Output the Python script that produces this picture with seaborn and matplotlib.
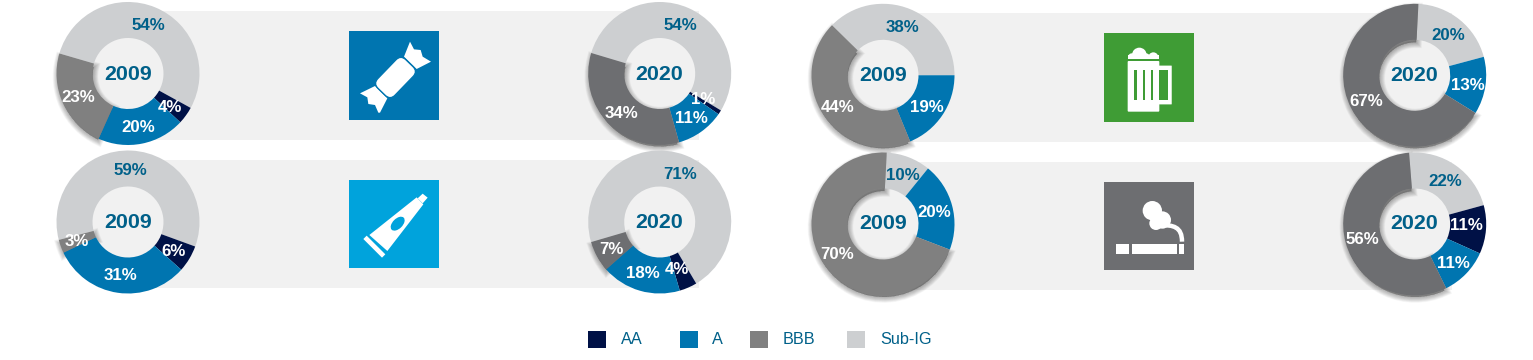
import matplotlib
matplotlib.use("Agg")
import matplotlib.pyplot as plt
import seaborn as sns
from matplotlib.patches import Circle, Ellipse, FancyBboxPatch, PathPatch, Polygon, Rectangle, Wedge
from matplotlib.path import Path
from matplotlib.transforms import Affine2D

# --- Data (order: Sub-IG, AA, A, BBB, clockwise) ---
ratings = ["Sub-IG", "AA", "A", "BBB"]
legend_order = ["AA", "A", "BBB", "Sub-IG"]
years = ["2009", "2020"]
candy_2009 = [54, 4, 20, 23]
candy_2020 = [54, 1, 11, 34]
paste_2009 = [59, 6, 31, 3]
paste_2020 = [71, 4, 18, 7]
beer_2009 = [38, 0, 19, 44]
beer_2020 = [20, 0, 13, 67]
smoke_2009 = [10, 0, 20, 70]
smoke_2020 = [22, 11, 11, 56]

# --- Colours ---
sns.set_theme(style="white")
plt.rcParams["font.family"] = ["Liberation Sans", "DejaVu Sans"]
DARK, BLUE, GREY_09, GREY_20, LIGHT = sns.color_palette(
    ["#001146", "#0075b0", "#808080", "#6d6e71", "#cdcfd1"])
BAND = "#f1f1f1"
TEXT = "#006089"
GREEN = "#3f9c35"

# --- Layout, in image pixels ---
R_OUT, R_IN = 71.5, 35.5
# values, year index, centre x, centre y, start angle, label positions (same order as the values), year position
donuts = [
    (candy_2009, 0, 128, 73.5, 163.7, [(148.7, 25), (170, 106.7), (138.3, 126.7), (78.3, 96)], (127.7, 72.7)),
    (candy_2020, 1, 659.7, 73.5, 163.3, [(680.7, 25), (703.3, 98.3), (691.7, 117.3), (621.7, 112.7)], (659, 72.7)),
    (paste_2009, 0, 128, 222, 194.5, [(130.7, 169.3), (173.3, 250.3), (120, 275), (76.7, 240.7)], (127.7, 221)),
    (paste_2020, 1, 659.7, 222, 196.3, [(679.7, 173.3), (677.3, 269), (642.7, 273), (611.7, 248.3)], (658.7, 221)),
    (beer_2009, 0, 883, 75.3, 135.5, [(902.7, 26), None, (926.7, 106.7), (837.7, 106.7)], (883, 74)),
    (beer_2020, 1, 1414.7, 75.3, 87, [(1448.7, 34.3), None, (1468.3, 84.3), (1366.7, 100)], (1413.7, 74)),
    (smoke_2009, 0, 883, 224, 87, [(902.7, 174.3), None, (934.7, 211.7), (836.7, 253.3)], (883, 221.7)),
    (smoke_2020, 1, 1414.7, 224, 94.5, [(1445.7, 180), (1466, 225), (1453.3, 262.3), (1362.7, 238.3)], (1413.7, 221.7)),
]
bands = [(98, 11, 699, 140), (98, 159.7, 699, 288), (853, 13, 1452, 142), (853, 162, 1452, 289.7)]
legend_boxes = [588, 680, 750, 847]
legend_text = [621, 712, 783, 880]

fig = plt.figure(figsize=(15.33, 3.6), dpi=100)
ax = fig.add_axes([0, 0, 1, 1])
ax.set_xlim(0, 1533)
ax.set_ylim(360, 0)
ax.axis("off")

for x0, y0, x1, y1 in bands:
    ax.add_patch(Rectangle((x0, y0), x1 - x0, y1 - y0, color=BAND, lw=0, zorder=1))

# --- Donuts ---
for values, year_idx, cx, cy, start, label_pos, year_pos in donuts:
    grey = GREY_09 if year_idx == 0 else GREY_20
    ax.add_patch(Circle((cx, cy), R_IN + 1, color=BAND, lw=0, zorder=2))
    wedges, _ = ax.pie(values, colors=[LIGHT, DARK, BLUE, grey], center=(cx, cy), radius=R_OUT,
                       startangle=-start, frame=True,
                       wedgeprops={"width": R_OUT - R_IN, "lw": 0, "zorder": 5})
    # soft shadow under the BBB slice
    w = wedges[3]
    for lw in [0.6, 1.2, 1.8, 2.4, 3, 3.6, 4.2, 4.8, 5.4, 6, 6.6, 7.2, 7.8, 8.4]:
        ax.add_patch(Wedge((cx + 0.5, cy + 3), R_OUT - 1.5, w.theta1 + 1.5, w.theta2 - 1.5, width=R_OUT - R_IN - 2,
                           facecolor="black", edgecolor="black", alpha=0.022, lw=lw, zorder=3))
    for name, val, pos in zip(ratings, values, label_pos):
        if pos is None:
            continue
        ax.text(pos[0], pos[1] + 1, f"{val}%", color=TEXT if name == "Sub-IG" else "white", fontsize=12.2,
                fontweight="bold", ha="center", va="center", zorder=7)
    ax.text(year_pos[0], year_pos[1] + 1.5, years[year_idx], color=TEXT, fontsize=15.4, fontweight="bold",
            ha="center", va="center", zorder=7)


# --- Icons, shapes traced in 3x crop coordinates ---
def z(points, ox, oy):
    return [(ox + x / 3, oy + y / 3) for x, y in points]


def square(x, y, w, h, color):
    ax.add_patch(Rectangle((x, y), w, h, color=color, lw=0, zorder=4))


# candy
square(349, 31, 90, 89, BLUE)
ox, oy = 30, 0
ax.add_patch(Polygon(z([(1140, 125), (1152, 148), (1172, 150), (1178, 170), (1203, 185), (1160, 207), (1122, 170)], ox, oy),
                     color="white", lw=0, zorder=5))
ax.add_patch(Polygon(z([(990, 280), (1035, 258), (1072, 295), (1050, 338), (1045, 338), (1035, 315), (1015, 312), (1012, 292)], ox, oy),
                     color="white", lw=0, zorder=5))
body = FancyBboxPatch((-13, -5), 26, 10, boxstyle="round,pad=7", facecolor="white", edgecolor=BLUE, lw=1, zorder=5.5,
                      transform=Affine2D().rotate_deg(-46).translate(395.5, 77.5) + ax.transData)
ax.add_patch(body)

# toothpaste
square(349, 180, 90, 88, "#00a3dc")
ox, oy = 30, 145
ax.add_patch(Polygon(z([(1018, 270), (1160, 157), (1180, 178), (1072, 318)], ox, oy), color="white", lw=0, zorder=5))
ax.add_patch(Polygon(z([(1163, 160), (1178, 146), (1193, 158), (1178, 175)], ox, oy), color="white", lw=0, zorder=5))
ax.add_patch(Polygon(z([(1000, 282), (1010, 272), (1066, 328), (1056, 338)], ox, oy), color="white", lw=0, zorder=5))
ax.add_patch(Ellipse(z([(1103, 236)], ox, oy)[0], 17, 10, angle=-45, color="#00a3dc", lw=0, zorder=6))

# beer
square(1104, 33, 90, 89, GREEN)
ox, oy = 790, 0
for c, r in [((1048, 165), 22), ((1090, 172), 15), ((1025, 170), 10), ((1068, 172), 12)]:
    ax.add_patch(Circle(z([c], ox, oy)[0], r / 3, color="white", lw=0, zorder=5))
ax.add_patch(Rectangle((ox + 1013 / 3, 165 / 3), 95 / 3, 12 / 3, color="white", lw=0, zorder=5))
ax.add_patch(Rectangle((ox + 1000 / 3, 177 / 3), 120 / 3, 6 / 3, color=GREEN, lw=0, zorder=5.2))
ax.add_patch(FancyBboxPatch((ox + 1016 / 3, 186 / 3), 89 / 3, 146 / 3, boxstyle="round,pad=1", color="white", lw=0, zorder=6))
ax.add_patch(FancyBboxPatch((ox + 1100 / 3, 198 / 3), 44 / 3, 114 / 3, boxstyle="round,pad=0.4", color="white", lw=0, zorder=5.7))
ax.add_patch(Rectangle((ox + 1108 / 3, 210 / 3), 25 / 3, 90 / 3, color=GREEN, lw=0, zorder=6))
for x in [1032, 1058, 1082]:
    ax.add_patch(Rectangle((ox + x / 3, 210 / 3), 8 / 3, 90 / 3, color=GREEN, lw=0, zorder=7))

# cigarette
square(1104, 182, 90, 88, GREY_20)
ox, oy = 790, 145
for x0, x1 in [(978, 1016), (1026, 1160), (1168, 1182)]:
    ax.add_patch(Rectangle((ox + x0 / 3, oy + 297 / 3), (x1 - x0) / 3, 29 / 3, color="white", lw=0, zorder=5))
for c, r in [((1087, 197), 29), ((1117, 225), 26), ((1098, 235), 20)]:
    ax.add_patch(Circle(z([c], ox, oy)[0], r / 3, color="white", lw=0, zorder=5))
trail = Path(z([(1110, 240), (1150, 240), (1176, 245), (1176, 290)], ox, oy),
             [Path.MOVETO, Path.CURVE4, Path.CURVE4, Path.CURVE4])
ax.add_patch(PathPatch(trail, fill=False, edgecolor="white", lw=3.2, zorder=5))

# --- Legend ---
legend_colors = [DARK, BLUE, GREY_09, LIGHT]
for name, col, bx, tx in zip(legend_order, legend_colors, legend_boxes, legend_text):
    ax.add_patch(Rectangle((bx, 331), 18, 17, color=col, lw=0, zorder=4))
    ax.text(tx, 340, name, color=TEXT, fontsize=11.7, ha="left", va="center")

ax.set_xlim(0, 1533)
ax.set_ylim(360, 0)
fig.savefig("out.png", dpi=100, facecolor="white")
